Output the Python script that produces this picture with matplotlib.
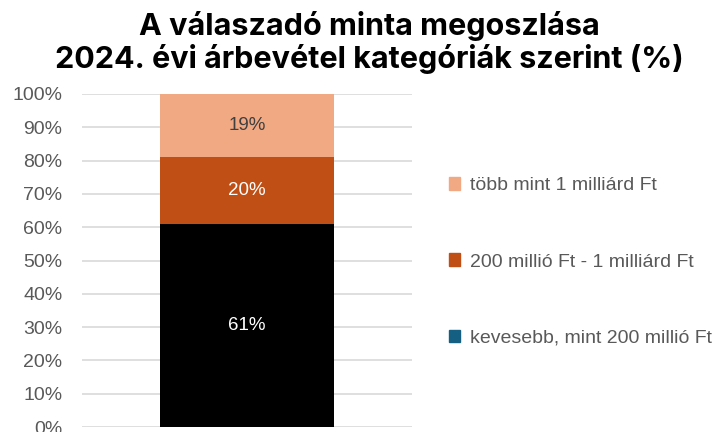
import matplotlib.pyplot as plt
from matplotlib.patches import Patch
import numpy as np

# share of respondents by 2024 revenue category (%)
categories = ["kevesebb, mint 200 millió Ft", "200 millió Ft - 1 milliárd Ft", "több mint 1 milliárd Ft"]
values = [61, 20, 19]
bar_colors = ["#000000", "#C04F15", "#F1A983"]
legend_colors = ["#156082", "#C04F15", "#F1A983"]
label_colors = ["#FFFFFF", "#FFFFFF", "#404040"]
yticks = np.arange(0, 101, 10)
title_lines = ["A válaszadó minta megoszlása", "2024. évi árbevétel kategóriák szerint (%)"]

W, H = 718, 432
fig = plt.figure(figsize=(W / 100, H / 100), dpi=100)
ax = fig.add_axes([82 / W, 1 - 427 / H, 330 / W, 333 / H])

bottom = 0
for v, c, lc in zip(values, bar_colors, label_colors):
    ax.bar(0, v, width=0.53, bottom=bottom, color=c, zorder=2)
    ax.text(0, bottom + v / 2, f"{v}%", ha="center", va="center",
            color=lc, fontsize=13.5, family="Liberation Sans", zorder=3)
    bottom += v

ax.set_xlim(-0.5, 0.5)
ax.set_ylim(0, 100)
ax.set_yticks(yticks)
ax.set_yticklabels([f"{t}%" for t in yticks], fontsize=14,
                   color="#595959", family="Liberation Sans")
ax.set_xticks([])
ax.tick_params(axis="y", length=0, pad=14)
ax.grid(axis="y", color="#D9D9D9", linewidth=1.2, zorder=0)
for s in ax.spines.values():
    s.set_visible(False)

handles = [Patch(color=c, label=l) for c, l in zip(legend_colors, categories)][::-1]
leg = fig.legend(handles=handles, loc="center left", bbox_to_anchor=(431 / W, 1 - 262 / H),
                 frameon=False, labelspacing=3.05, handlelength=0.6,
                 handleheight=0.6, handletextpad=0.5, prop={"family": "Liberation Sans", "size": 14})
for t in leg.get_texts():
    t.set_color("#595959")

fig.text(0.515, 1 - 35 / H, title_lines[0], ha="center", va="baseline",
         fontsize=22, fontweight="bold", family="Inter", color="#000000")
fig.text(0.515, 1 - 68 / H, title_lines[1], ha="center", va="baseline",
         fontsize=22, fontweight="bold", family="Inter", color="#000000")

fig.savefig("out.png", dpi=100)
